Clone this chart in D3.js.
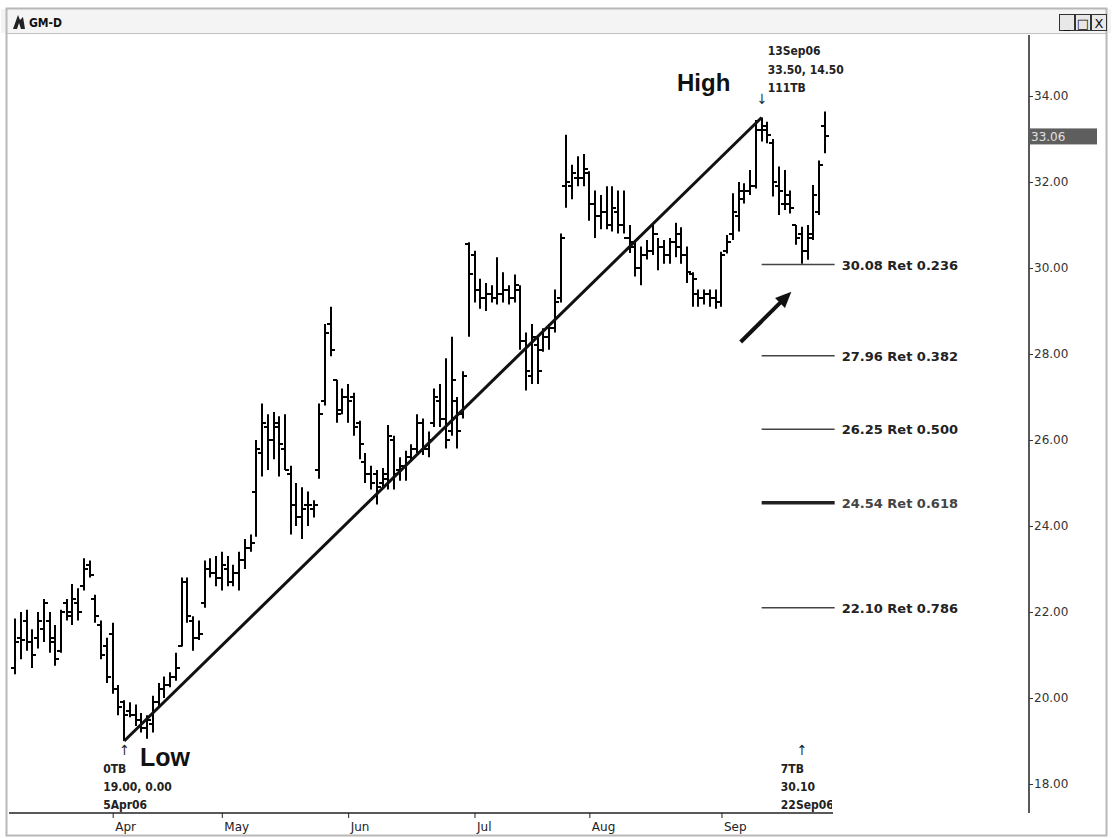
<!DOCTYPE html>
<html><head><meta charset="utf-8">
<script src="https://cdn.jsdelivr.net/npm/d3@7"></script>
<style>
html,body{margin:0;padding:0;background:#fff;}
svg{display:block;}
</style></head>
<body>
<script>
// ---------- DATA ----------
const symbol = "GM-D";
const firstDay = "2006-03-09", lastDay = "2006-09-28";
const holidays = ["2006-04-14","2006-05-29","2006-07-04","2006-09-04"];
const highs = [21.85,22.0,22.05,21.6,22.0,22.3,22.0,21.7,22.05,22.3,22.65,22.55,23.25,23.2,22.4,21.8,21.4,
  21.75,20.3,19.95,19.9,19.85,19.65,19.6,20.05,20.35,20.5,20.6,21.05,22.8,22.8,21.9,21.8,23.2,23.25,23.3,23.4,23.3,23.1,23.4,23.7,23.8,
  26.0,26.85,26.6,26.65,26.55,26.6,25.4,25.0,24.9,24.8,24.6,26.85,28.7,29.1,27.4,27.2,27.3,27.1,26.45,25.7,25.4,25.3,25.35,26.35,26.1,
  25.6,25.75,25.9,26.6,26.5,26.2,27.2,27.3,27.9,28.4,27.0,27.6,30.6,30.4,29.75,29.65,29.6,30.25,29.9,29.6,29.85,29.6,28.5,28.7,28.4,
  28.6,28.7,29.5,30.8,33.1,32.4,32.6,32.65,32.25,31.8,31.7,31.9,31.9,31.8,31.8,31.0,30.65,30.5,30.65,31.0,30.7,30.65,30.7,31.05,30.95,
  30.5,29.9,29.5,29.5,29.5,29.5,30.38,30.77,31.74,32.0,31.97,32.28,33.44,33.5,33.4,33.0,32.36,32.28,31.8,31.0,30.96,31.0,31.93,32.5,33.64];
const lows = [20.55,20.9,21.1,20.7,21.15,21.3,21.05,20.75,21.05,21.8,21.7,21.8,22.5,22.8,21.75,20.9,20.35,
  20.1,19.6,19.0,19.55,19.35,19.2,19.05,19.2,19.8,20.0,20.25,20.4,21.2,21.75,21.1,21.35,22.1,22.8,22.6,22.5,22.6,22.6,22.5,23.0,23.4,
  23.75,25.15,25.3,25.55,25.15,25.3,23.8,24.0,23.7,24.0,24.2,25.1,26.8,27.95,26.4,26.6,26.4,26.1,25.55,25.0,24.85,24.5,24.9,24.85,24.85,
  25.05,25.05,25.5,25.7,25.65,25.6,26.3,26.3,25.8,26.1,25.8,26.5,28.4,29.2,29.05,29.0,29.2,29.15,29.2,29.15,29.2,28.1,27.15,27.3,27.3,
  28.05,28.1,28.5,29.2,31.4,31.6,31.9,31.9,31.1,30.7,30.9,30.9,30.85,30.8,30.8,30.35,29.8,29.6,30.2,30.3,29.95,30.1,30.1,30.25,30.1,
  29.65,29.1,29.1,29.15,29.1,29.05,29.1,30.34,30.65,30.85,31.5,31.7,31.85,32.94,32.9,31.66,31.23,31.35,31.27,30.54,30.1,30.19,30.65,31.23,32.67];
const opens = [20.7,21.4,21.8,21.3,21.4,21.6,21.8,21.3,21.1,22.2,22.0,22.2,22.6,23.1,22.3,21.7,21.2,
  21.5,20.2,19.9,19.7,19.6,19.5,19.3,19.4,19.9,20.2,20.3,20.5,21.2,22.7,21.8,21.4,22.2,23.0,22.9,22.8,23.0,22.7,22.9,23.2,23.5,
  24.8,25.7,26.3,26.0,26.4,25.8,25.2,24.5,24.2,24.5,24.4,25.3,26.9,28.7,27.4,26.7,27.0,27.0,26.4,25.5,25.2,25.2,25.0,25.1,26.0,
  25.3,25.4,25.6,25.8,26.4,25.8,26.4,26.9,26.5,26.2,26.9,26.6,30.55,30.3,29.5,29.3,29.4,29.3,29.4,29.5,29.3,29.5,28.3,27.5,28.2,
  28.1,28.4,28.6,29.3,31.9,31.9,32.1,32.1,32.2,31.5,31.2,31.3,31.0,31.3,31.0,30.7,30.5,30.0,30.3,30.4,30.8,30.5,30.3,30.6,30.8,
  30.3,29.85,29.4,29.3,29.4,29.3,29.2,30.4,30.8,31.2,31.6,31.8,31.9,33.2,33.2,32.9,31.9,31.5,31.7,31.0,30.8,30.4,30.7,31.3,33.3];
const closes = [21.3,21.35,21.3,21.0,21.8,22.2,21.4,20.9,22.0,21.9,22.3,22.0,23.0,22.85,21.9,21.0,20.5,
  20.2,19.8,19.6,19.6,19.5,19.3,19.5,19.9,20.2,20.3,20.5,20.7,22.7,21.9,21.4,21.5,23.0,22.9,22.8,23.1,22.7,22.9,23.2,23.5,23.6,
  25.8,26.4,26.0,26.3,25.9,25.3,24.5,24.2,24.4,24.5,24.5,26.6,28.5,28.1,26.6,27.0,26.9,26.3,25.9,25.2,25.0,24.9,25.2,26.1,25.2,
  25.4,25.6,25.8,26.4,25.8,26.0,27.0,26.5,26.0,27.4,26.2,27.5,29.85,29.5,29.3,29.4,29.3,29.4,29.5,29.3,29.6,28.3,27.6,28.4,27.6,
  28.4,28.6,29.2,30.7,32.0,32.2,32.1,32.3,31.5,31.2,31.3,31.0,31.4,31.0,30.7,30.6,30.0,30.3,30.4,30.8,30.5,30.3,30.6,30.5,30.3,
  29.9,29.75,29.3,29.4,29.3,29.2,30.3,30.6,31.3,31.8,31.8,31.9,33.2,33.3,33.1,32.0,31.8,31.5,31.4,30.7,30.4,30.8,31.7,32.4,33.06];
const priceTicks = [18,20,22,24,26,28,30,32,34];
const monthLabels = ["Apr","May","Jun","Jul","Aug","Sep"];
const monthStarts = ["2006-04-03","2006-05-01","2006-06-01","2006-07-03","2006-08-01","2006-09-01"];
const lowPoint = {date:"2006-04-05", price:19.00};
const highPoint = {date:"2006-09-13", price:33.50};
const retLevels = [30.08, 27.96, 26.25, 24.54, 22.10];
const retRatios = ["0.236","0.382","0.500","0.618","0.786"];
const lastPrice = 33.06;
const lowNote = ["0TB","19.00, 0.00","5Apr06"];
const highNote = ["13Sep06","33.50, 14.50","111TB"];
const markNote = {date:"2006-09-22", lines:["7TB","30.10","22Sep06"]};
const arrowFrom = {date:"2006-09-07", price:28.28};
const arrowTo = {date:"2006-09-20", price:29.45};

// ---------- trading calendar ----------
const fmt = d3.utcFormat("%Y-%m-%d");
const dates = d3.utcDays(new Date(firstDay+"T00:00Z"), d3.utcDay.offset(new Date(lastDay+"T00:00Z"),1))
  .filter(d => d.getUTCDay()!==0 && d.getUTCDay()!==6 && !holidays.includes(fmt(d))).map(fmt);
const bars = dates.map((d,i)=>({date:d,o:opens[i],h:highs[i],l:lows[i],c:closes[i]}));

// ---------- layout ----------
const W=1113, H=838;
const svg = d3.select("body").append("svg").attr("width",W).attr("height",H);
const step = 5.743;
const x = d3.scalePoint().domain(dates).range([112.7-17*step, 112.7+124*step]);
const y = d3.scaleLinear().domain([18,34]).range([784,96]);
const axisX = 1029, plotRight = 832, axisY = 813;

// window frame
svg.append("rect").attr("x",0).attr("y",0).attr("width",W).attr("height",H).attr("fill","#fff");
svg.append("rect").attr("x",1).attr("y",9).attr("width",W-3).attr("height",24).attr("fill","#f4f4f4");
svg.append("rect").attr("x",6.5).attr("y",8.5).attr("width",W-13).attr("height",H-11).attr("fill","none").attr("stroke","#b8b8b8").attr("stroke-width",2);
svg.append("line").attr("x1",7).attr("x2",W-7).attr("y1",33.5).attr("y2",33.5).attr("stroke","#c0c0c0");
// title
const tg = svg.append("g");
tg.append("path").attr("d","M13,29 L18,15 L20,20 L23,17 L25,29 Z").attr("fill","#222");
tg.append("path").attr("d","M17,29 L19,23 L21,29Z").attr("fill","#f4f4f4");
tg.append("text").attr("x",29).attr("y",27).text(symbol).attr("font-family","DejaVu Sans Condensed, DejaVu Sans").attr("font-weight","bold").attr("font-size",12).attr("fill","#111");
const btn = svg.append("g").attr("font-family","DejaVu Sans").attr("font-size",13).attr("fill","#111");
[[1059,"_"],[1075,"□"],[1091,"X"]].forEach(([bx,t])=>{
  btn.append("rect").attr("x",bx+0.5).attr("y",14.5).attr("width",15).attr("height",16).attr("fill","#e8e8e8").attr("stroke","#333");
  btn.append("text").attr("x",bx+8).attr("y",28).attr("text-anchor","middle").text(t);
});

// clip for plot
svg.append("clipPath").attr("id","plotclip").append("rect").attr("x",9).attr("y",34).attr("width",plotRight-9).attr("height",axisY-34);

// axes lines
svg.append("line").attr("x1",axisX).attr("x2",axisX).attr("y1",35).attr("y2",axisY).attr("stroke","#222").attr("stroke-width",1.5);
svg.append("line").attr("x1",9).attr("x2",plotRight+1).attr("y1",axisY).attr("y2",axisY).attr("stroke","#222").attr("stroke-width",1.5);

// price axis
const yAxis = d3.axisRight(y).tickValues(priceTicks).tickFormat(d3.format(".2f")).tickSize(4).tickPadding(1);
const ya = svg.append("g").attr("transform",`translate(${axisX},0)`).call(yAxis);
ya.select(".domain").remove();
ya.selectAll("text").attr("font-family","DejaVu Sans").attr("font-size",12).attr("fill","#333");
ya.selectAll("line").attr("stroke","#333");

// last price box
svg.append("rect").attr("x",axisX).attr("y",y(lastPrice)-8).attr("width",68).attr("height",16).attr("fill","#5e5e5e");
svg.append("text").attr("x",axisX+2).attr("y",y(lastPrice)+4.5).text(lastPrice.toFixed(2)).attr("font-family","DejaVu Sans").attr("font-size",12).attr("fill","#e0e0e0");

// month axis
const xAxis = d3.axisBottom(x).tickValues(monthStarts).tickFormat((d,i)=>monthLabels[i]).tickSize(5).tickPadding(4);
const xa = svg.append("g").attr("transform",`translate(0,${axisY})`).call(xAxis);
xa.select(".domain").remove();
xa.selectAll("text").attr("font-family","DejaVu Sans").attr("font-size",12).attr("fill","#222").attr("text-anchor","start").attr("dx",2);
xa.selectAll("line").attr("stroke","#222");

// bars
const pg = svg.append("g").attr("clip-path","url(#plotclip)");
const bg = pg.append("g").attr("stroke","#000").attr("stroke-width",2).attr("fill","none");
bars.forEach(b=>{
  const cx = Math.round(x(b.date));
  bg.append("line").attr("x1",cx).attr("x2",cx).attr("y1",y(b.h)).attr("y2",y(b.l));
  bg.append("line").attr("x1",cx-4).attr("x2",cx).attr("y1",Math.round(y(b.o))).attr("y2",Math.round(y(b.o)));
  bg.append("line").attr("x1",cx).attr("x2",cx+4).attr("y1",Math.round(y(b.c))).attr("y2",Math.round(y(b.c)));
});

// trend line
pg.append("line").attr("x1",x(lowPoint.date)).attr("y1",y(lowPoint.price)).attr("x2",x(highPoint.date)).attr("y2",y(highPoint.price))
  .attr("stroke","#111").attr("stroke-width",3);

// retracement lines
const rg = svg.append("g");
retLevels.forEach((v,i)=>{
  const thick = retRatios[i]==="0.618";
  rg.append("line").attr("x1",x(highPoint.date)).attr("x2",x(highPoint.date)+73).attr("y1",y(v)).attr("y2",y(v))
    .attr("stroke",thick?"#222":"#444").attr("stroke-width",thick?3.5:1.5);
  rg.append("text").attr("x",x(highPoint.date)+80).attr("y",y(v)+5).text(`${v.toFixed(2)} Ret ${retRatios[i]}`)
    .attr("font-family","DejaVu Sans").attr("font-weight","bold").attr("font-size",13).attr("fill",thick?"#444":"#222");
});

// arrow
const ax1 = x(arrowFrom.date)+2, ay1 = y(arrowFrom.price), ax2 = x(arrowTo.date)+1, ay2 = y(arrowTo.price);
const ang = Math.atan2(ay2-ay1, ax2-ax1);
const hl = 16, hw = 7;
svg.append("line").attr("x1",ax1).attr("y1",ay1).attr("x2",ax2-Math.cos(ang)*hl*0.8).attr("y2",ay2-Math.sin(ang)*hl*0.8).attr("stroke","#111").attr("stroke-width",4);
const bx = ax2-Math.cos(ang)*hl, by = ay2-Math.sin(ang)*hl;
svg.append("path").attr("d",`M${ax2},${ay2} L${bx+Math.sin(ang)*hw},${by-Math.cos(ang)*hw} L${bx-Math.sin(ang)*hw},${by+Math.cos(ang)*hw} Z`).attr("fill","#111");

// annotations
const af = "DejaVu Sans Condensed, DejaVu Sans";
const ann = svg.append("g").attr("font-family",af).attr("font-weight","bold").attr("font-size",12).attr("fill","#222");
highNote.forEach((t,i)=>ann.append("text").attr("x",x(highPoint.date)+6).attr("y",55+i*18.5).text(t));
ann.append("text").attr("x",x(highPoint.date)).attr("y",104).attr("text-anchor","middle").attr("font-weight","normal").attr("font-size",14).text("↓");
ann.append("text").attr("x",x(lowPoint.date)).attr("y",755).attr("text-anchor","middle").attr("font-weight","normal").attr("font-size",14).text("↑");
lowNote.forEach((t,i)=>ann.append("text").attr("x",x(lowPoint.date)-21).attr("y",773+i*18).text(t));
const mg = svg.append("g").attr("clip-path","url(#plotclip)").attr("font-family",af).attr("font-weight","bold").attr("font-size",12).attr("fill","#222");
mg.append("text").attr("x",x(markNote.date)).attr("y",755).attr("text-anchor","middle").attr("font-weight","normal").attr("font-size",14).text("↑");
markNote.lines.forEach((t,i)=>mg.append("text").attr("x",x(markNote.date)-21).attr("y",773+i*18).text(t));

svg.append("text").attr("x",677).attr("y",91).text("High").attr("font-family","Liberation Sans, Arial").attr("font-weight","bold").attr("font-size",24).attr("fill","#111");
svg.append("text").attr("x",140).attr("y",766).text("Low").attr("font-family","Liberation Sans, Arial").attr("font-weight","bold").attr("font-size",25).attr("fill","#111");
</script>
</body></html>
